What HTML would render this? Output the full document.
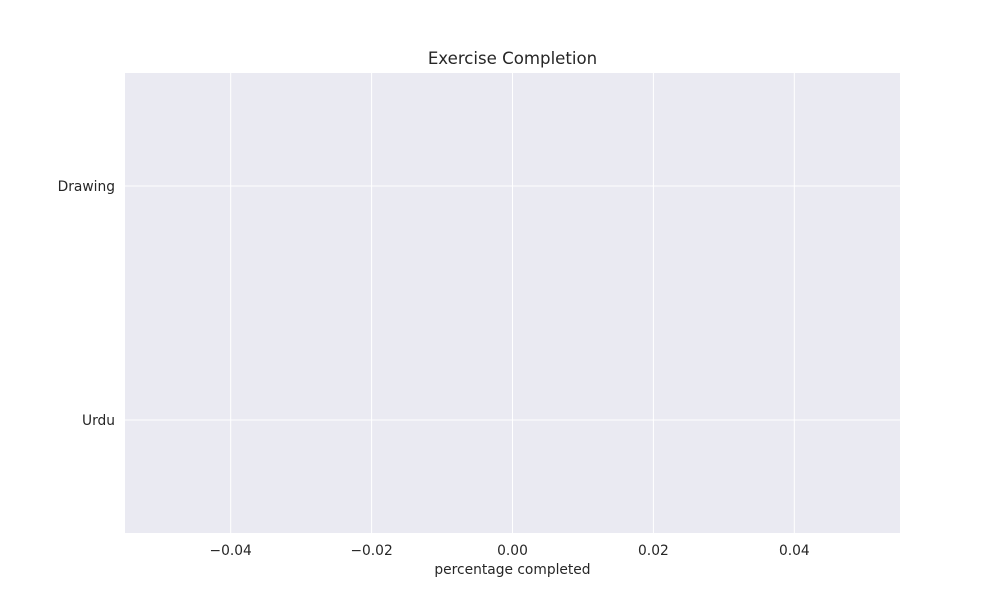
<!DOCTYPE html>
<html><head><meta charset="utf-8"><style>
body{margin:0;background:#fff;}
svg{display:block;font-family:"DejaVu Sans","Liberation Sans",sans-serif;}
</style></head><body>
<svg id="chart" width="1000" height="600">
<rect x="125" y="73" width="775" height="460" fill="#eaeaf2"/>
<g id="grid"></g><g id="bars"></g><g id="ticks"></g>
<text x="512.5" y="64" text-anchor="middle" font-size="16.6" fill="#262626">Exercise Completion</text>
<text x="512.5" y="574" text-anchor="middle" font-size="13.8" fill="#262626">percentage completed</text>
</svg>
<script>
const categories = ["Drawing", "Urdu"];
const values = [0, 0];
const xTicks = [-0.04, -0.02, 0.0, 0.02, 0.04];
const xTickLabels = ["\u22120.04", "\u22120.02", "0.00", "0.02", "0.04"];
const X0=125,X1=900,Y0=73,Y1=533,xmin=-0.055,xmax=0.055,ymin=-0.483,ymax=1.483;
const sx=v=>X0+(v-xmin)/(xmax-xmin)*(X1-X0);
const sy=i=>Y0+(i-ymin)/(ymax-ymin)*(Y1-Y0);
const NS="http://www.w3.org/2000/svg";
const g=document.getElementById('grid'),b=document.getElementById('bars'),t=document.getElementById('ticks');
function mk(tag,attrs,parent,text){const e=document.createElementNS(NS,tag);for(const k in attrs)e.setAttribute(k,attrs[k]);if(text!==undefined)e.textContent=text;parent.appendChild(e);return e;}
xTicks.forEach((v,i)=>{
  const l=mk('line',{x1:sx(v),x2:sx(v),y1:Y0,y2:Y1,stroke:'#fff','stroke-width':1},g);
  
  
  const tx=mk('text',{x:sx(v),y:Y1+22,'text-anchor':'middle','font-size':13.8,fill:'#262626'},t,xTickLabels[i]);
  
  
});
categories.forEach((c,i)=>{
  const l=mk('line',{x1:X0,x2:X1,y1:sy(i),y2:sy(i),stroke:'#fff','stroke-width':1},g);
  
  
  const tx=mk('text',{x:X0-10,y:sy(i)+5,'text-anchor':'end','font-size':13.8,fill:'#262626'},t,c);
  
  
  const v=values[i];
  const r=mk('rect',{x:Math.min(sx(0),sx(v)),y:sy(i-0.4),width:Math.abs(sx(v)-sx(0)),height:sy(i+0.4)-sy(i-0.4),fill:'#4c72b0'},b);
  
  
});
</script>
</body></html>
